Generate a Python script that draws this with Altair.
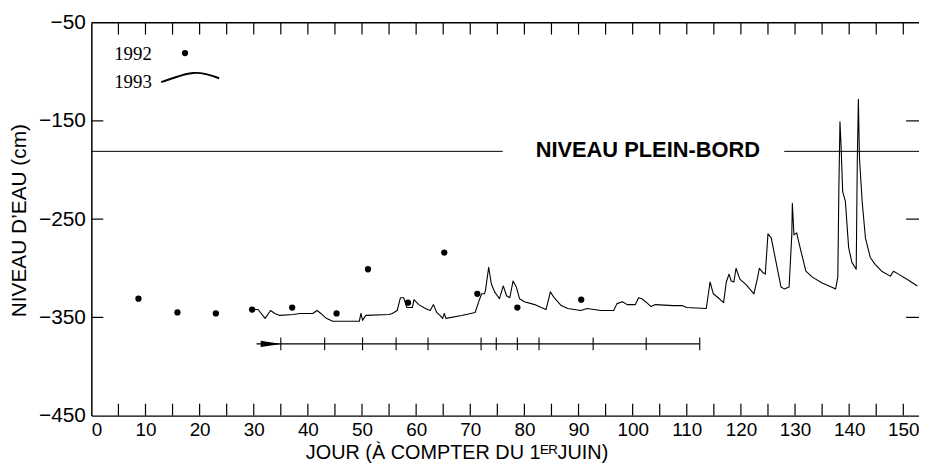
import altair as alt
import pandas as pd

# ---- data ----
# 1992 : ponctual measurements (dots)
dots_day = [8.7, 15.9, 23.0, 29.7, 37.1, 45.3, 51.1, 58.5, 65.2, 71.3, 78.7, 90.5]
dots_val = [-331, -345, -346, -342, -340, -346, -301, -335, -284, -326, -340, -332]

# 1993 : continuous record (line)
line_day = [29.3, 30.8, 32.1, 33.1, 33.9, 34.8, 37.3, 38.5, 40.9, 41.7, 42.4, 43.4, 44.6, 47.0,
            49.5, 49.8, 50.1, 50.7, 55.0, 55.6, 56.5, 57.1, 57.7, 58.3, 59.3, 59.6, 60.5, 61.7,
            62.6, 63.2, 63.8, 64.4, 64.9, 65.2, 65.5, 68.4, 70.9, 71.5, 72.1, 72.6, 72.8, 73.4,
            73.9, 74.5, 75.4, 76.1, 76.7, 77.3, 77.9, 78.5, 79.1, 80.0, 81.9, 83.1, 84.0, 84.8,
            85.5, 86.8, 88.0, 90.4, 91.6, 94.1, 96.5, 97.1, 98.1, 99.0, 100.5, 101.1, 101.7,
            102.6, 103.4, 104.2, 107.5, 109.1, 110.0, 113.6, 114.3, 114.9, 115.8, 116.8, 117.3,
            117.8, 118.2, 118.7, 119.1, 119.8, 121.0, 122.4, 123.1, 123.4, 124.0, 124.5, 125.0,
            125.6, 127.4, 128.0, 128.9, 129.4, 129.5, 129.8, 130.3, 130.8, 132.0, 133.2, 135.0,
            136.3, 137.5, 137.9, 138.1, 138.3, 138.5, 138.8, 139.3, 139.9, 140.5, 141.3, 141.5,
            141.7, 141.9, 142.4, 143.0, 143.9, 144.8, 146.0, 147.6, 148.2, 149.1, 150.9, 152.6]
line_val = [-342, -342, -351, -343, -346, -348, -347, -346, -346, -343, -346, -351, -354, -354,
            -354, -346, -353, -348, -347, -346, -343, -330, -330, -340, -340, -332, -337, -341,
            -343, -337, -345, -348, -351, -346, -351, -348, -345, -335, -326, -326, -323, -299,
            -316, -324, -331, -318, -328, -330, -313, -319, -331, -334, -337, -340, -342, -324,
            -330, -338, -341, -343, -341, -343, -343, -336, -334, -337, -337, -330, -331,
            -335, -339, -337, -338, -338, -340, -341, -314, -326, -330, -335, -314,
            -306, -313, -314, -300, -311, -317, -326, -309, -300, -304, -306, -265,
            -269, -319, -321, -319, -266, -234, -266, -264, -276, -303, -309, -315,
            -318, -321, -309, -218, -151, -175, -222, -232, -279, -294, -301, -191,
            -128, -188, -232, -269, -289, -296, -303, -308, -303, -306, -312, -318]

# bankfull level
pb_level = -181
pb_start = [0.0, 128.0]
pb_end = [76.0, 152.9]
pb_label = "NIVEAU PLEIN-BORD"
pb_label_day = 102.8

# period arrow
arrow_level = -377
arrow_start = 30.5
arrow_end = 112.4
arrow_head_day = 33.2
arrow_tick_days = [35.0, 43.1, 50.1, 56.3, 62.2, 72.0, 74.8, 78.7, 82.7, 92.7, 102.5, 112.4]

# legend
leg_labels = ["1992", "1993"]
leg_label_day = [7.7, 7.7]
leg_label_val = [-82, -110]
leg_dot_day = [17.3]
leg_dot_val = [-81]
leg_curve_day = [12.9, 18.9, 23.6]
leg_curve_val = [-110.6, -101.2, -106.6]

# axes
x_labels = list(range(0, 151, 10))
x_ticks = list(range(5, 151, 5))
y_labels = [-450, -350, -250, -150, -50]
y_ticks = [-350, -250, -150]
x_domain = [0, 152.9]
y_domain = [-450, -50]

W, H = 834, 396
FONT = "Liberation Sans"

xs = alt.Scale(domain=x_domain, nice=False, zero=False)
ys = alt.Scale(domain=y_domain, nice=False, zero=False)

X = alt.X("day:Q", scale=xs)
Y = alt.Y("val:Q", scale=ys)

line_df = pd.DataFrame({"day": line_day, "val": line_val})
dots_df = pd.DataFrame({"day": dots_day, "val": dots_val})

line = alt.Chart(line_df).mark_line(color="black", strokeWidth=1.1, strokeJoin="round").encode(
    x=alt.X("day:Q", scale=xs,
            axis=alt.Axis(values=x_labels, format="d", title="JOUR (À COMPTER DU 1ᴱᴿJUIN)",
                          labelFontSize=19, labelPadding=5, titleFontSize=20,
                          titleFontWeight="normal", titleX=368, titleY=37,
                          titleAlign="center", titleBaseline="middle")),
    y=alt.Y("val:Q", scale=ys,
            axis=alt.Axis(values=y_labels, format="d", title="NIVEAU D’EAU (cm)",
                          labelFontSize=21, labelPadding=6, titleFontSize=21,
                          titleFontWeight="normal", titleX=-72, titleY=199,
                          titleAngle=270, titleAlign="center", titleBaseline="middle")),
    order="day:Q",
)

dots = alt.Chart(dots_df).mark_circle(color="black", size=40, opacity=1).encode(x=X, y=Y)

pb_df = pd.DataFrame({"day": pb_start, "day2": pb_end, "val": [pb_level] * len(pb_start)})
pb = alt.Chart(pb_df).mark_rule(color="black", strokeWidth=1).encode(x=X, x2="day2:Q", y=Y)

pb_text = alt.Chart(pd.DataFrame({"day": [pb_label_day], "val": [pb_level], "t": [pb_label]})).mark_text(
    font=FONT, fontSize=22, fontWeight="bold", color="black", baseline="middle", align="center", dy=-1
).encode(x=X, y=Y, text="t:N")

arrow_df = pd.DataFrame({"day": [arrow_start], "day2": [arrow_end], "val": [arrow_level]})
arrow_line = alt.Chart(arrow_df).mark_rule(color="black", strokeWidth=1.1).encode(x=X, x2="day2:Q", y=Y)

arrow_head = alt.Chart(pd.DataFrame({"day": [arrow_head_day], "val": [arrow_level]})).mark_point(
    shape="M-1,-0.3L1,0L-1,0.3Z", filled=True, color="black", size=440, opacity=1
).encode(x=X, y=Y)

arrow_ticks = alt.Chart(pd.DataFrame({"day": arrow_tick_days, "val": [arrow_level] * len(arrow_tick_days)})).mark_tick(
    orient="vertical", size=13, thickness=1.1, color="black", opacity=1
).encode(x=X, y=Y)

# frame (top line; left and bottom are the axis lines) and inward ticks
frame = alt.Chart(pd.DataFrame({"val": [-50]})).mark_rule(color="black", strokeWidth=1.5).encode(
    x=alt.value(0), x2=alt.value(W), y=Y)
xt_df = pd.DataFrame({"day": x_ticks})
yt_df = pd.DataFrame({"val": y_ticks})
bottom_ticks = alt.Chart(xt_df).mark_rule(color="black", strokeWidth=1.2).encode(
    x=X, y=alt.value(H), y2=alt.value(H - 12))
top_ticks = alt.Chart(xt_df).mark_rule(color="black", strokeWidth=1.2).encode(
    x=X, y=alt.value(0), y2=alt.value(12))
left_ticks = alt.Chart(yt_df).mark_rule(color="black", strokeWidth=1.2).encode(
    y=Y, x=alt.value(0), x2=alt.value(12))
right_ticks = alt.Chart(yt_df).mark_rule(color="black", strokeWidth=1.2).encode(
    y=Y, x=alt.value(W), x2=alt.value(W - 13))

# legend
leg_text = alt.Chart(pd.DataFrame({"day": leg_label_day, "val": leg_label_val, "t": leg_labels})).mark_text(
    font="Liberation Serif", fontSize=19, color="black", align="center", baseline="middle"
).encode(x=X, y=Y, text="t:N")
leg_dot = alt.Chart(pd.DataFrame({"day": leg_dot_day, "val": leg_dot_val})).mark_circle(
    color="black", size=40, opacity=1
).encode(x=X, y=Y)
leg_curve = alt.Chart(pd.DataFrame({"day": leg_curve_day, "val": leg_curve_val})).mark_line(
    color="black", strokeWidth=2, interpolate="natural"
).encode(x=X, y=Y, order="day:Q")

chart = alt.layer(
    line, pb, pb_text, dots, arrow_line, arrow_head, arrow_ticks, frame,
    bottom_ticks, top_ticks, left_ticks, right_ticks, leg_text, leg_dot, leg_curve
).properties(
    width=W, height=H,
    autosize=alt.AutoSizeParams(type="none"),
    padding={"left": 84, "top": 13, "right": 0, "bottom": 48},
    background="white",
).configure_view(
    stroke="transparent"
).configure_axis(
    domain=True, domainColor="black", domainWidth=1.5, ticks=False, grid=False,
    labelFont=FONT, titleFont=FONT, labelColor="black", titleColor="black",
)

chart.save("out.html", embed_options={"renderer": "svg", "actions": False})
